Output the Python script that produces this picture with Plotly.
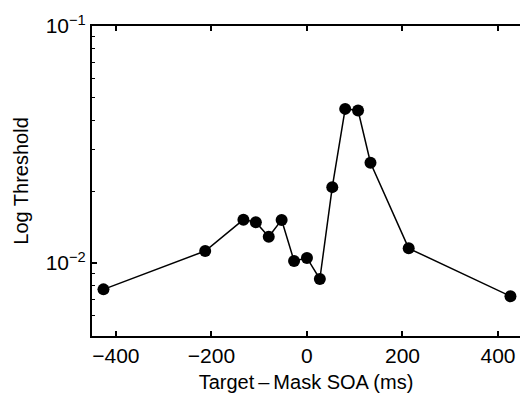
import plotly.graph_objects as go

soa_ms = [-426, -213, -133, -107, -80, -53, -27, 0, 27, 53, 80, 107, 133, 213, 426]
threshold = [0.00774, 0.01124, 0.01524, 0.01486, 0.0129, 0.0152, 0.0102, 0.0105,
             0.00856, 0.0209, 0.0447, 0.0440, 0.0265, 0.01153, 0.00724]

x_ticks = [-400, -200, 0, 200, 400]
x_ticklabels = ["\u2212400", "\u2212200", "0", "200", "400"]
y_ticks = [0.01, 0.1]
y_ticklabels = ["10<sup>\u22122</sup>", "10<sup>\u22121</sup>"]
y_minor = [0.006, 0.007, 0.008, 0.009, 0.02, 0.03, 0.04, 0.05, 0.06, 0.07, 0.08, 0.09]

FONT = "Liberation Sans, Arial, Helvetica, sans-serif"

fig = go.Figure()
fig.add_trace(go.Scatter(
    x=soa_ms, y=threshold, mode="lines+markers",
    line=dict(color="black", width=1.5),
    marker=dict(color="black", size=12),
    showlegend=False, cliponaxis=False,
))

fig.update_layout(
    width=520, height=399,
    margin=dict(l=92, r=0, t=26, b=63),
    paper_bgcolor="white", plot_bgcolor="white",
    font=dict(family=FONT, color="black", size=21),
    xaxis=dict(
        range=[-450, 446], automargin=False,
        tickvals=x_ticks, ticktext=x_ticklabels,
        ticks="inside", ticklen=5, tickwidth=1.5, tickcolor="black",
        showline=True, linecolor="black", linewidth=2, mirror="ticks",
        showgrid=False, zeroline=False,
        tickfont=dict(size=21),
        title=dict(text="Target\u2009\u2013\u2009Mask SOA (ms)", font=dict(size=20), standoff=9),
    ),
    yaxis=dict(
        type="log", automargin=False,
        range=[-2.308, -1],
        tickvals=y_ticks, ticktext=y_ticklabels,
        ticks="inside", ticklen=5, tickwidth=1.5, tickcolor="black",
        minor=dict(tickvals=y_minor, ticks="inside", ticklen=3, tickwidth=1, tickcolor="black"),
        showline=True, linecolor="black", linewidth=2, mirror=False,
        showgrid=False, zeroline=False,
        tickfont=dict(size=21),
        title=dict(text="Log Threshold", font=dict(size=20), standoff=12),
    ),
)

fig.write_html("out.html", config={"displayModeBar": False},
               post_script="document.body.style.margin='0';")
